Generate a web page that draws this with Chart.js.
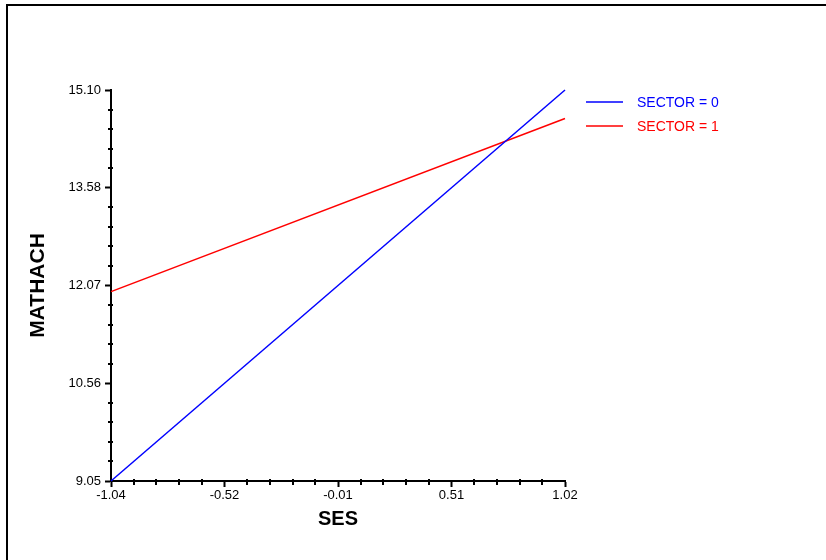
<!DOCTYPE html>
<html>
<head>
<meta charset="utf-8">
<script src="https://cdn.jsdelivr.net/npm/chart.js@4/dist/chart.umd.min.js"></script>
<style>
    body { margin: 0; background: #fff; }
    #wrap { position: relative; width: 826px; height: 560px; }
    #frame { position: absolute; left: 6px; top: 4px; right: 0; bottom: 0;
             border-top: 2px solid #000; border-left: 2px solid #000; pointer-events: none; }
    canvas { position: absolute; left: 0; top: 0; }
</style>
</head>
<body>
<div id="wrap">
    <canvas id="chart" width="826" height="560"></canvas>
    <div id="frame"></div>
</div>
<script>
// data
var sesValues = [-1.04, 1.02];
var sector0 = [9.05, 15.10];
var sector1 = [11.98, 14.66];
var seriesLabels = ['SECTOR = 0', 'SECTOR = 1'];
var xTickLabels = ['-1.04', '-0.52', '-0.01', '0.51', '1.02'];
var yTickLabels = ['9.05', '10.56', '12.07', '13.58', '15.10'];

var xMin = -1.04, xMax = 1.02, yMin = 9.05, yMax = 15.10;
var minorPerMajor = 4;

function toPoints(xs, ys) {
    return xs.map(function (x, i) { return { x: x, y: ys[i] }; });
}

function evenTicks(min, max, count) {
    var ticks = [];
    for (var i = 0; i < count; i++) {
        ticks.push({ value: min + i * (max - min) / (count - 1) });
    }
    return ticks;
}

// minor ticks between the majors, drawn on the axis lines
const minorTicks = {
    id: 'minorTicks',
    afterDraw: function (chart) {
        var ctx = chart.ctx;
        var xs = chart.scales.x, ys = chart.scales.y;
        ctx.save();
        ctx.strokeStyle = '#000';
        ctx.lineWidth = 2;
        ctx.beginPath();
        var step, v, p, i, j;
        for (i = 0; i < xs.ticks.length - 1; i++) {
            step = (xs.ticks[i + 1].value - xs.ticks[i].value) / (minorPerMajor + 1);
            for (j = 1; j <= minorPerMajor; j++) {
                v = xs.ticks[i].value + j * step;
                p = Math.round(xs.getPixelForValue(v));
                ctx.moveTo(p, chart.chartArea.bottom - 2);
                ctx.lineTo(p, chart.chartArea.bottom + 4);
            }
        }
        for (i = 0; i < ys.ticks.length - 1; i++) {
            step = (ys.ticks[i + 1].value - ys.ticks[i].value) / (minorPerMajor + 1);
            for (j = 1; j <= minorPerMajor; j++) {
                v = ys.ticks[i].value + j * step;
                p = Math.round(ys.getPixelForValue(v));
                ctx.moveTo(chart.chartArea.left - 3, p);
                ctx.lineTo(chart.chartArea.left + 2, p);
            }
        }
        ctx.stroke();
        ctx.restore();
    }
};

// legend to the right of the plot
const sideLegend = {
    id: 'sideLegend',
    afterDraw: function (chart) {
        var ctx = chart.ctx;
        var left = chart.chartArea.right + 21;
        ctx.save();
        ctx.font = '14px "Liberation Sans", Arial, sans-serif';
        ctx.textBaseline = 'middle';
        chart.data.datasets.forEach(function (ds, i) {
            var y = chart.chartArea.top + 12 + i * 24;
            ctx.strokeStyle = ds.borderColor;
            ctx.lineWidth = 1.5;
            ctx.beginPath();
            ctx.moveTo(left, y);
            ctx.lineTo(left + 37, y);
            ctx.stroke();
            ctx.fillStyle = ds.borderColor;
            ctx.fillText(ds.label, left + 51, y + 1);
        });
        ctx.restore();
    }
};

var tickFont = { family: '"Liberation Sans", Arial, sans-serif', size: 13 };
var titleFont = { family: '"Liberation Sans", Arial, sans-serif', size: 20, weight: 'bold' };
var yTitleFont = { family: '"Liberation Sans", Arial, sans-serif', size: 21, weight: 'bold' };

new Chart(document.getElementById('chart'), {
    type: 'line',
    data: {
        datasets: [{
            label: seriesLabels[0],
            data: toPoints(sesValues, sector0),
            borderColor: '#0000ff',
            borderWidth: 1.5,
            pointRadius: 0,
            clip: false
        }, {
            label: seriesLabels[1],
            data: toPoints(sesValues, sector1),
            borderColor: '#ff0000',
            borderWidth: 1.5,
            pointRadius: 0,
            clip: false
        }]
    },
    options: {
        responsive: false,
        animation: false,
        layout: { padding: { left: 0, top: 90, right: 261, bottom: 19 } },
        plugins: {
            legend: { display: false },
            tooltip: { enabled: false }
        },
        scales: {
            x: {
                type: 'linear',
                min: xMin,
                max: xMax,
                afterBuildTicks: function (scale) {
                    scale.ticks = evenTicks(xMin, xMax, xTickLabels.length);
                },
                afterFit: function (scale) { scale.height = 60; },
                ticks: {
                    autoSkip: false,
                    maxRotation: 0,
                    padding: 1,
                    color: '#000',
                    font: tickFont,
                    callback: function (value, index) { return xTickLabels[index]; }
                },
                grid: { drawOnChartArea: false, tickLength: 6, tickWidth: 2, tickColor: '#000' },
                border: { color: '#000', width: 2 },
                title: { display: true, text: 'SES', color: '#000', font: titleFont, padding: { top: 0, bottom: 10 } }
            },
            y: {
                type: 'linear',
                min: yMin,
                max: yMax,
                afterBuildTicks: function (scale) {
                    scale.ticks = evenTicks(yMin, yMax, yTickLabels.length);
                },
                afterFit: function (scale) { scale.width = 111; },
                ticks: {
                    autoSkip: false,
                    padding: 4,
                    color: '#000',
                    font: tickFont,
                    callback: function (value, index) { return yTickLabels[index]; }
                },
                grid: { drawOnChartArea: false, tickLength: 6, tickWidth: 2, tickColor: '#000' },
                border: { color: '#000', width: 2 },
                title: { display: true, text: 'MATHACH', color: '#000', font: yTitleFont, padding: { top: 26, bottom: 0 } }
            }
        }
    },
    plugins: [minorTicks, sideLegend]
});
</script>
</body>
</html>
